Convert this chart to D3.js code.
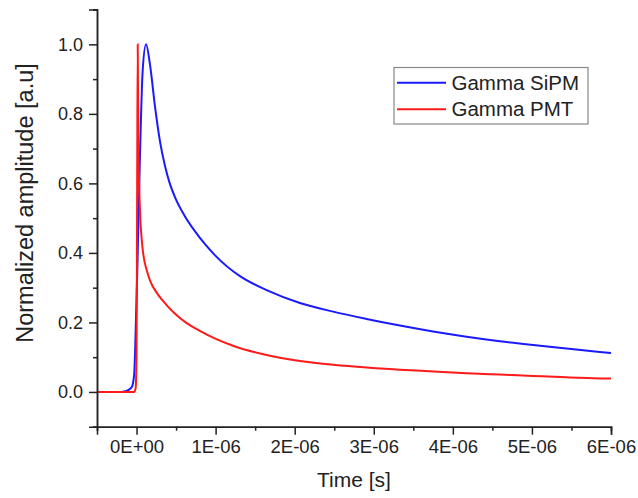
<!DOCTYPE html>
<html>
<head>
<meta charset="utf-8">
<script src="https://cdn.jsdelivr.net/npm/d3@7"></script>
<style>
  body { margin: 0; background: #fff; }
  svg text { font-family: "Liberation Sans", Arial, sans-serif; fill: #222; }
</style>
</head>
<body>
<div id="chart"></div>
<script>
// time in microseconds, amplitude normalised
var sipmTime = [-0.5, -0.2, -0.14, -0.1, -0.06, -0.03, -0.019, 0.015, 0.044, 0.078, 0.12, 0.171, 0.234, 0.297, 0.36, 0.42, 0.487, 0.613, 0.74, 0.866, 0.993, 1.308, 1.645, 2.066, 2.487, 2.909, 3.33, 3.751, 4.173, 4.594, 5.015, 5.437, 5.857, 6.0]
var sipmAmp = [0, 0, 0.002, 0.006, 0.014, 0.05, 0.11, 0.40, 0.686, 0.926, 1.0, 0.94, 0.82, 0.72, 0.65, 0.60, 0.56, 0.505, 0.462, 0.425, 0.393, 0.333, 0.293, 0.256, 0.231, 0.210, 0.191, 0.174, 0.159, 0.146, 0.135, 0.125, 0.115, 0.112]

var pmtTime = [-0.5, -0.03, -0.012, 0.0, 0.008, 0.015, 0.023, 0.044, 0.065, 0.086, 0.129, 0.171, 0.272, 0.38, 0.487, 0.634, 0.80, 1.01, 1.22, 1.645, 2.066, 2.487, 2.909, 3.33, 3.75, 4.173, 4.594, 5.015, 5.437, 5.857, 6.0]
var pmtAmp = [0, 0, 0.01, 0.1, 0.6, 1.0, 0.72, 0.52, 0.44, 0.395, 0.35, 0.32, 0.28, 0.25, 0.225, 0.198, 0.176, 0.152, 0.133, 0.106, 0.089, 0.078, 0.070, 0.064, 0.059, 0.054, 0.050, 0.046, 0.042, 0.039, 0.0385]

var xTicks = [0, 1e-6, 2e-6, 3e-6, 4e-6, 5e-6, 6e-6]
var yTicks = [0, 0.2, 0.4, 0.6, 0.8, 1.0]

var seriesNames = ["Gamma SiPM", "Gamma PMT"]
var seriesColors = ["#1a1aff", "#ff1a1a"]

document.addEventListener("DOMContentLoaded", function() {
  draw()
});

function toPoints(times, amps) {
  return times.map(function(t, i) { return {t: t * 1e-6, v: amps[i]} })
}

function draw() {
  var width = 638, height = 498
  var left = 97, right = 611, top = 9.6, bottom = 426.7

  var svg = d3.select("#chart").append("svg")
    .attr("width", width)
    .attr("height", height)

  var x = d3.scaleLinear().domain([-0.5e-6, 6e-6]).range([left, right])
  var y = d3.scaleLinear().domain([-0.1, 1.1]).range([bottom, top])

  var series = [toPoints(sipmTime, sipmAmp), toPoints(pmtTime, pmtAmp)]

  var line = d3.line()
    .x(function(d) { return x(d.t) })
    .y(function(d) { return y(d.v) })
    .curve(d3.curveMonotoneX)

  svg.selectAll("path.curve")
    .data(series)
    .enter()
    .append("path")
    .attr("class", "curve")
    .attr("d", line)
    .attr("fill", "none")
    .attr("stroke", function(d, i) { return seriesColors[i] })
    .attr("stroke-width", 2)

  // minor ticks first, then the major axes over them
  var xMinor = d3.range(-0.5, 6, 1).map(function(d) { return d * 1e-6 })
  var yMinor = d3.range(-0.1, 1.15, 0.2)

  svg.append("g")
    .attr("transform", "translate(0," + bottom + ")")
    .call(d3.axisBottom(x).tickValues(xMinor).tickSize(4).tickFormat(""))
    .call(styleAxis)

  svg.append("g")
    .attr("transform", "translate(" + left + ",0)")
    .call(d3.axisLeft(y).tickValues(yMinor).tickSize(4).tickFormat(""))
    .call(styleAxis)

  svg.append("g")
    .attr("transform", "translate(0," + bottom + ")")
    .call(d3.axisBottom(x).tickValues(xTicks).tickSize(8).tickPadding(5)
      .tickFormat(function(d) { return d === 0 ? "0E+00" : Math.round(d * 1e6) + "E-06" }))
    .call(styleAxis)
    .selectAll("text")
    .attr("font-size", "18.5px")

  svg.append("g")
    .attr("transform", "translate(" + left + ",0)")
    .call(d3.axisLeft(y).tickValues(yTicks).tickSize(8).tickPadding(6).tickFormat(d3.format(".1f")))
    .call(styleAxis)
    .selectAll("text")
    .attr("font-size", "18px")

  svg.append("text")
    .attr("x", (left + right) / 2)
    .attr("y", 487)
    .attr("text-anchor", "middle")
    .attr("font-size", "21px")
    .text("Time [s]")

  svg.append("text")
    .attr("transform", "translate(33," + 203 + ") rotate(-90)")
    .attr("text-anchor", "middle")
    .attr("font-size", "23.5px")
    .text("Normalized amplitude [a.u]")

  // legend
  var legend = svg.append("g")
  legend.append("rect")
    .attr("x", 394).attr("y", 67.5)
    .attr("width", 194).attr("height", 56.5)
    .attr("fill", "#fff")
    .attr("stroke", "#888")
    .attr("stroke-width", 1.2)

  var items = legend.selectAll("g.item")
    .data(seriesNames)
    .enter()
    .append("g")
    .attr("class", "item")
    .attr("transform", function(d, i) { return "translate(0," + (82.7 + i * 26.6) + ")" })

  items.append("line")
    .attr("x1", 397).attr("x2", 446)
    .attr("stroke", function(d, i) { return seriesColors[i] })
    .attr("stroke-width", 2)

  items.append("text")
    .attr("x", 451.5)
    .attr("y", 7)
    .attr("font-size", "20.5px")
    .text(function(d) { return d })
}

function styleAxis(g) {
  g.select(".domain").attr("stroke", "#222").attr("stroke-width", 1.5)
  g.selectAll(".tick line").attr("stroke", "#222").attr("stroke-width", 1.5)
  g.selectAll(".tick text").attr("fill", "#222").style("font-family", '"Liberation Sans", Arial, sans-serif')
}
</script>
</body>
</html>
